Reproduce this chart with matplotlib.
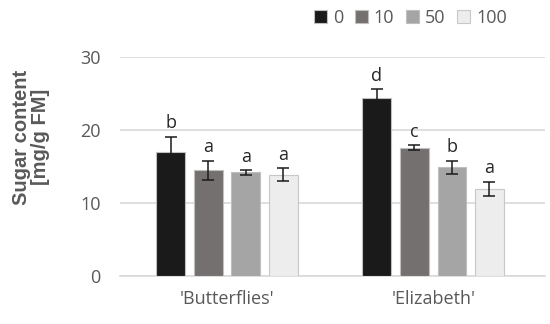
import numpy as np
from matplotlib import pyplot as plt

cultivars = ["'Butterflies'", "'Elizabeth'"]
treatments = ['0', '10', '50', '100']
sugar = [[17.0, 24.4], [14.5, 17.6], [14.2, 14.9], [13.9, 11.9]]
errors = [[2.1, 1.2], [1.3, 0.3], [0.3, 0.9], [0.9, 1.0]]
letters = [['b', 'd'], ['a', 'c'], ['a', 'b'], ['a', 'a']]

colors = ['#1a1a1a', '#747070', '#a5a5a5', '#ededed']
edges = ['#bfbfbf', '#bfbfbf', '#bfbfbf', '#c8c8c8']
txt = '#595959'

fig = plt.figure(figsize=(5.5, 3.24), dpi=100)
ax = fig.add_axes([0.218, 0.148, 0.772, 0.676])

x = np.arange(len(cultivars))
width = 0.14
step = 0.182
for i in range(len(treatments)):
    pos = x + (i - 1.5) * step
    ax.bar(pos, sugar[i], width, color=colors[i], edgecolor=edges[i],
           linewidth=0.8, label=treatments[i], zorder=3)
    ax.errorbar(pos, sugar[i], yerr=errors[i], fmt='none', ecolor='#1a1a1a',
                elinewidth=1.1, capsize=4, capthick=1.1, zorder=4)
    for p, v, e, l in zip(pos, sugar[i], errors[i], letters[i]):
        ax.text(p, v + e + 0.6, l, ha='center', va='bottom', fontsize=13,
                color='#262626', family='Open Sans')

ax.set_ylim(0, 30)
ax.set_xlim(-0.52, 1.54)
ax.set_yticks([0, 10, 20, 30])
ax.set_xticks(x)
ax.set_xticklabels(cultivars)
ax.yaxis.grid(True, color='#d9d9d9', linewidth=1.2, zorder=0)
for s in ['top', 'right', 'left']:
    ax.spines[s].set_visible(False)
ax.spines['bottom'].set_color('#d9d9d9')
ax.spines['bottom'].set_linewidth(1.2)
ax.tick_params(axis='both', length=0, labelsize=13, colors=txt)
ax.tick_params(axis='y', pad=14)
ax.tick_params(axis='x', pad=10)
for t in ax.get_xticklabels() + ax.get_yticklabels():
    t.set_family('Open Sans')
ax.set_ylabel('Sugar content\n[mg/g FM]', fontsize=14.5, fontweight='bold',
              color=txt, family='Liberation Sans', linespacing=1.0)
ax.yaxis.set_label_coords(-0.165, 0.635)

leg = fig.legend(*ax.get_legend_handles_labels(), loc='upper right',
                 bbox_to_anchor=(0.935, 0.995), ncol=4, frameon=False,
                 borderaxespad=0.0,
                 handlelength=0.7, handleheight=0.7, handletextpad=0.35,
                 columnspacing=0.65, prop={'family': 'Open Sans', 'size': 13})
for t in leg.get_texts():
    t.set_color(txt)

fig.savefig('out.png', dpi=100)
